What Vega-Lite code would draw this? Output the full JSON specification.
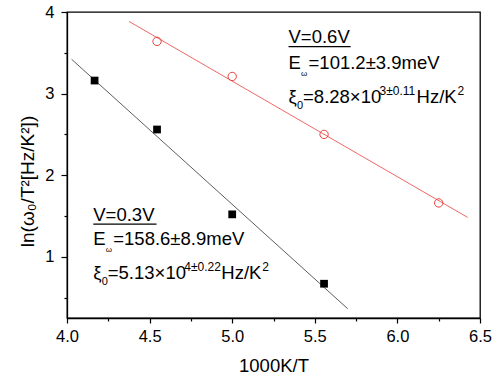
{
  "$schema": "https://vega.github.io/schema/vega-lite/v6.json",
  "width": 413,
  "height": 306,
  "autosize": {"type": "none"},
  "padding": {"left": 67, "top": 12, "right": 19, "bottom": 60},
  "background": "white",
  "config": {
    "view": {"stroke": "black", "strokeWidth": 1.3},
    "font": "Liberation Sans",
    "axis": {"grid": false, "domainColor": "black", "tickColor": "black", "labelColor": "black", "titleColor": "black", "domainWidth": 1.3, "tickWidth": 1.2, "labelFont": "Liberation Sans", "titleFont": "Liberation Sans", "titleFontWeight": "normal"}
  },
  "datasets": {
    "fit": [
      {"series": "0.3V", "x": 4.028, "y": 3.42},
      {"series": "0.3V", "x": 5.699, "y": 0.364},
      {"series": "0.6V", "x": 4.375, "y": 3.885},
      {"series": "0.6V", "x": 6.425, "y": 1.483}
    ],
    "sq": [
      {"x": 4.167, "y": 3.16},
      {"x": 4.545, "y": 2.56},
      {"x": 5.0, "y": 1.52},
      {"x": 5.556, "y": 0.67}
    ],
    "circ": [
      {"x": 4.545, "y": 3.64},
      {"x": 5.0, "y": 3.21},
      {"x": 5.556, "y": 2.5},
      {"x": 6.25, "y": 1.66}
    ],
    "head": [
      {"x": 5.341, "y": 3.618, "x2": 5.717, "yu": 3.575, "t": "V=0.6V"},
      {"x": 4.159, "y": 1.442, "x2": 4.542, "yu": 1.40, "t": "V=0.3V"}
    ],
    "eline": [
      {"x": 5.341, "y": 3.299, "t": "=101.2±3.9meV"},
      {"x": 4.159, "y": 1.148, "t": "=158.6±8.9meV"}
    ],
    "xline": [
      {"x": 5.341, "y": 2.889, "m": "=8.28×10", "e": "3±0.11"},
      {"x": 4.159, "y": 0.731, "m": "=5.13×10", "e": "4±0.22"}
    ]
  },
  "resolve": {"axis": {"x": "independent", "y": "independent"}},
  "layer": [
    {
      "data": {"name": "fit"},
      "mark": {"type": "line", "strokeWidth": 0.8},
      "encoding": {
        "x": {"field": "x", "type": "quantitative", "scale": {"domain": [4, 6.5], "nice": false, "zero": false},
          "axis": {"orient": "bottom", "values": [4, 4.5, 5, 5.5, 6, 6.5], "format": ".1f", "labelFontSize": 16.5, "tickSize": 5, "labelPadding": 5, "title": "1000K/T", "titleFontSize": 18.5, "titleBaseline": "alphabetic", "titleY": 53, "labelFlush": false}},
        "y": {"field": "y", "type": "quantitative", "scale": {"domain": [0.25, 4], "nice": false, "zero": false},
          "axis": {"orient": "left", "values": [1, 2, 3, 4], "format": "d", "labelFontSize": 16.5, "tickSize": 6, "labelPadding": 7, "title": "ln(ω₀/T²[Hz/K²])", "titleFontSize": 19, "titleAngle": -90, "titleAlign": "center", "titleBaseline": "middle", "titleX": -40, "titleY": 169, "labelFlush": false}},
        "color": {"field": "series", "type": "nominal", "scale": {"domain": ["0.3V", "0.6V"], "range": ["#333333", "#e8413c"]}, "legend": null}
      }
    },
    {
      "data": {"name": "sq"},
      "mark": {"type": "point", "shape": "square", "filled": true, "color": "black", "size": 60, "opacity": 1},
      "encoding": {
        "x": {"field": "x", "type": "quantitative", "axis": {"orient": "bottom", "values": [4.25, 4.75, 5.25, 5.75, 6.25], "labels": false, "domain": false, "tickSize": 3, "title": null}},
        "y": {"field": "y", "type": "quantitative", "axis": {"orient": "left", "values": [0.5, 1.5, 2.5, 3.5], "labels": false, "domain": false, "tickSize": 3, "title": null}}
      }
    },
    {
      "data": {"name": "circ"},
      "mark": {"type": "point", "shape": "circle", "filled": false, "color": "#e8413c", "size": 70, "strokeWidth": 1, "opacity": 1},
      "encoding": {
        "x": {"field": "x", "type": "quantitative", "axis": null},
        "y": {"field": "y", "type": "quantitative", "axis": null}
      }
    },
    {
      "data": {"name": "head"},
      "mark": {"type": "text", "align": "left", "baseline": "alphabetic", "fontSize": 18.5, "color": "black"},
      "encoding": {
        "x": {"field": "x", "type": "quantitative", "axis": null},
        "y": {"field": "y", "type": "quantitative", "axis": null},
        "text": {"field": "t"}
      }
    },
    {
      "data": {"name": "head"},
      "mark": {"type": "rule", "color": "black", "strokeWidth": 1.2},
      "encoding": {
        "x": {"field": "x", "type": "quantitative", "axis": null},
        "x2": {"field": "x2"},
        "y": {"field": "yu", "type": "quantitative", "axis": null}
      }
    },
    {
      "data": {"name": "eline"},
      "mark": {"type": "text", "align": "left", "baseline": "alphabetic", "fontSize": 18.5, "color": "black", "text": "E"},
      "encoding": {
        "x": {"field": "x", "type": "quantitative", "axis": null},
        "y": {"field": "y", "type": "quantitative", "axis": null}
      }
    },
    {
      "data": {"name": "eline"},
      "mark": {"type": "text", "align": "left", "baseline": "alphabetic", "fontSize": 8, "color": "black", "text": "ω", "dx": 12.5, "dy": 7},
      "encoding": {
        "x": {"field": "x", "type": "quantitative", "axis": null},
        "y": {"field": "y", "type": "quantitative", "axis": null}
      }
    },
    {
      "data": {"name": "eline"},
      "mark": {"type": "text", "align": "left", "baseline": "alphabetic", "fontSize": 18.5, "color": "black", "dx": 20},
      "encoding": {
        "x": {"field": "x", "type": "quantitative", "axis": null},
        "y": {"field": "y", "type": "quantitative", "axis": null},
        "text": {"field": "t"}
      }
    },
    {
      "data": {"name": "xline"},
      "mark": {"type": "text", "align": "left", "baseline": "alphabetic", "fontSize": 18.5, "color": "black", "text": "ξ"},
      "encoding": {
        "x": {"field": "x", "type": "quantitative", "axis": null},
        "y": {"field": "y", "type": "quantitative", "axis": null}
      }
    },
    {
      "data": {"name": "xline"},
      "mark": {"type": "text", "align": "left", "baseline": "alphabetic", "fontSize": 11, "color": "black", "text": "0", "dx": 8.5, "dy": 6},
      "encoding": {
        "x": {"field": "x", "type": "quantitative", "axis": null},
        "y": {"field": "y", "type": "quantitative", "axis": null}
      }
    },
    {
      "data": {"name": "xline"},
      "mark": {"type": "text", "align": "left", "baseline": "alphabetic", "fontSize": 18.5, "color": "black", "dx": 14.5},
      "encoding": {
        "x": {"field": "x", "type": "quantitative", "axis": null},
        "y": {"field": "y", "type": "quantitative", "axis": null},
        "text": {"field": "m"}
      }
    },
    {
      "data": {"name": "xline"},
      "mark": {"type": "text", "align": "left", "baseline": "alphabetic", "fontSize": 12, "color": "black", "dx": 91, "dy": -8},
      "encoding": {
        "x": {"field": "x", "type": "quantitative", "axis": null},
        "y": {"field": "y", "type": "quantitative", "axis": null},
        "text": {"field": "e"}
      }
    },
    {
      "data": {"name": "xline"},
      "mark": {"type": "text", "align": "left", "baseline": "alphabetic", "fontSize": 18.5, "color": "black", "text": "Hz/K", "dx": 128},
      "encoding": {
        "x": {"field": "x", "type": "quantitative", "axis": null},
        "y": {"field": "y", "type": "quantitative", "axis": null}
      }
    },
    {
      "data": {"name": "xline"},
      "mark": {"type": "text", "align": "left", "baseline": "alphabetic", "fontSize": 12, "color": "black", "text": "2", "dx": 169, "dy": -8},
      "encoding": {
        "x": {"field": "x", "type": "quantitative", "axis": null},
        "y": {"field": "y", "type": "quantitative", "axis": null}
      }
    }
  ]
}
